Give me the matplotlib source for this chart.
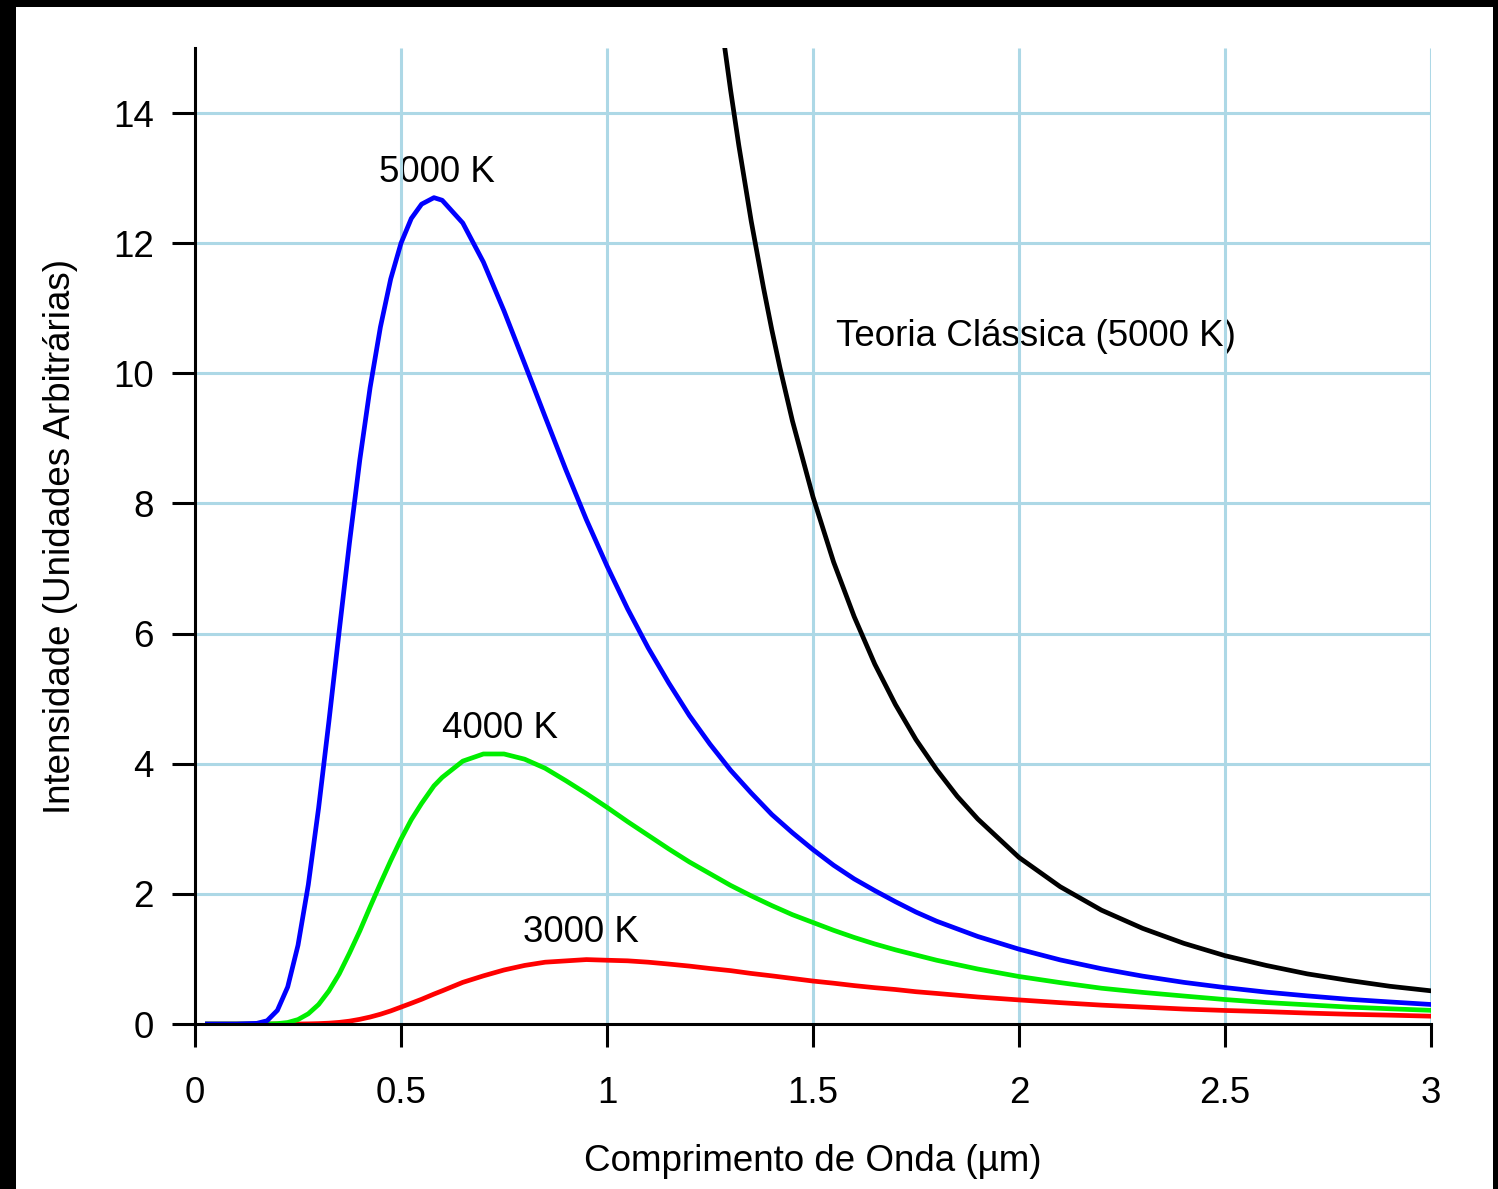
import matplotlib
matplotlib.use("Agg")
import matplotlib.pyplot as plt
from matplotlib.patches import Rectangle

plt.rcParams['font.family'] = ['Liberation Sans', 'DejaVu Sans']

# Wavelength samples (µm) and intensities
wl = [0.03, 0.10, 0.15, 0.175, 0.20, 0.225, 0.25, 0.275, 0.30, 0.325,
      0.35, 0.375, 0.40, 0.425, 0.45, 0.475, 0.50, 0.525, 0.55, 0.58,
      0.60, 0.65, 0.70, 0.75, 0.80, 0.85, 0.90, 0.95, 1.00, 1.05,
      1.10, 1.15, 1.20, 1.25, 1.30, 1.35, 1.40, 1.45, 1.50, 1.55,
      1.60, 1.65, 1.70, 1.75, 1.80, 1.90, 2.00, 2.10, 2.20, 2.30,
      2.40, 2.50, 2.60, 2.70, 2.80, 2.90, 3.00]
i5000 = [0.0, 0.0, 0.01, 0.05, 0.21, 0.57, 1.21, 2.14, 3.32, 4.65,
         6.04, 7.40, 8.67, 9.78, 10.71, 11.45, 12.0, 12.38, 12.60, 12.70,
         12.66, 12.31, 11.71, 10.96, 10.15, 9.33, 8.52, 7.75, 7.04, 6.38,
         5.78, 5.24, 4.74, 4.30, 3.90, 3.55, 3.22, 2.94, 2.68, 2.44,
         2.23, 2.05, 1.88, 1.72, 1.58, 1.345, 1.15, 0.985, 0.85, 0.736,
         0.64, 0.56, 0.49, 0.432, 0.38, 0.339, 0.30]
i4000 = [0.0, 0.0, 0.0, 0.0, 0.006, 0.023, 0.068, 0.157, 0.30, 0.508,
         0.77, 1.09, 1.43, 1.80, 2.16, 2.51, 2.84, 3.14, 3.39, 3.66,
         3.79, 4.04, 4.15, 4.15, 4.07, 3.93, 3.74, 3.54, 3.33, 3.11,
         2.90, 2.69, 2.49, 2.31, 2.13, 1.97, 1.82, 1.68, 1.56, 1.44,
         1.33, 1.23, 1.14, 1.06, 0.98, 0.845, 0.73, 0.636, 0.55, 0.486,
         0.43, 0.376, 0.33, 0.295, 0.26, 0.234, 0.21]
i3000 = [0.0, 0.0, 0.0, 0.0, 0.0, 0.0, 0.0, 0.002, 0.006, 0.013,
         0.025, 0.044, 0.072, 0.107, 0.15, 0.201, 0.26, 0.319, 0.38, 0.46,
         0.51, 0.64, 0.74, 0.83, 0.90, 0.95, 0.97, 0.99, 0.98, 0.971,
         0.95, 0.921, 0.89, 0.853, 0.82, 0.777, 0.74, 0.70, 0.66, 0.627,
         0.59, 0.558, 0.53, 0.496, 0.47, 0.415, 0.37, 0.328, 0.29, 0.26,
         0.23, 0.208, 0.19, 0.168, 0.15, 0.136, 0.12]

wl_classic = [1.28, 1.30, 1.32, 1.35, 1.38, 1.40, 1.42, 1.45, 1.50, 1.55,
              1.60, 1.65, 1.70, 1.75, 1.80, 1.85, 1.90, 2.00, 2.10, 2.20,
              2.30, 2.40, 2.50, 2.60, 2.70, 2.80, 2.90, 3.00]
i_classic = [15.27, 14.35, 13.50, 12.34, 11.31, 10.67, 10.08, 9.27, 8.10, 7.10,
             6.26, 5.53, 4.91, 4.37, 3.91, 3.50, 3.15, 2.56, 2.11, 1.75,
             1.47, 1.24, 1.05, 0.90, 0.77, 0.67, 0.58, 0.51]

xticks = [0, 0.5, 1, 1.5, 2, 2.5, 3]
xticklabels = ['0', '0.5', '1', '1.5', '2', '2.5', '3']
yticks = [0, 2, 4, 6, 8, 10, 12, 14]

fig = plt.figure(figsize=(14.98, 11.89), dpi=100, facecolor='black')
fig.add_artist(Rectangle((16/1498, 0), (1493-16)/1498, (1189-7)/1189,
                         transform=fig.transFigure, facecolor='white',
                         edgecolor='none', zorder=-10))
ax = fig.add_axes([195/1498, 165/1189, (1431-195)/1498, (1024-48)/1189])
ax.set_facecolor('none')
ax.set_xlim(0, 3)
ax.set_ylim(0, 15)

grid_c = '#add8e6'
for x in xticks[1:]:
    ax.plot([x, x], [0, 15], color=grid_c, lw=2.2, zorder=1, solid_capstyle='butt')
for y in yticks[1:]:
    ax.plot([0, 3], [y, y], color=grid_c, lw=2.2, zorder=1, solid_capstyle='butt')

lw = 3.4
ax.plot(wl, i3000, color='#ff0000', lw=lw, zorder=3)
ax.plot(wl, i4000, color='#00ee00', lw=lw, zorder=3)
ax.plot(wl, i5000, color='#0000ff', lw=lw, zorder=3)
ax.plot(wl_classic, i_classic, color='black', lw=lw, zorder=3)

fs = 26.5
ax.text(0.587, 13.08, '5000 K', ha='center', va='center', fontsize=fs, zorder=0.5)
ax.text(0.74, 4.54, '4000 K', ha='center', va='center', fontsize=fs, zorder=0.5)
ax.text(0.937, 1.40, '3000 K', ha='center', va='center', fontsize=fs, zorder=0.5)
ax.text(1.556, 10.56, 'Teoria Clássica (5000 K)', ha='left', va='center', fontsize=fs, zorder=0.5)

for s in ['top', 'right']:
    ax.spines[s].set_visible(False)
for s in ['left', 'bottom']:
    ax.spines[s].set_linewidth(2.2)
    ax.spines[s].set_zorder(4)

ax.set_xticks(xticks)
ax.set_xticklabels(xticklabels)
ax.set_yticks(yticks)
ax.tick_params(axis='both', direction='out', length=16.5, width=2.2, labelsize=fs)
ax.tick_params(axis='x', pad=21)
ax.tick_params(axis='y', pad=13)

ax.set_xlabel('Comprimento de Onda (µm)', fontsize=fs, labelpad=24)
ax.set_ylabel('Intensidade (Unidades Arbitrárias)', fontsize=fs, labelpad=25)

fig.savefig('out.png', dpi=100, facecolor='black')
